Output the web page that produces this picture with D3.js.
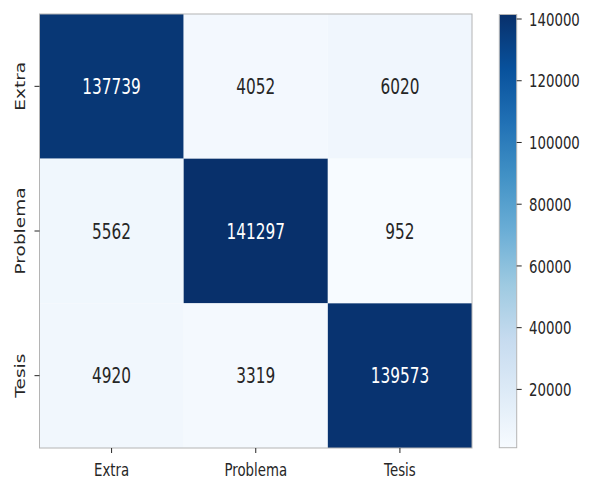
<!DOCTYPE html>
<html>
<head>
<meta charset="utf-8">
<script src="https://cdn.jsdelivr.net/npm/d3@7"></script>
<style>
  html, body { margin: 0; padding: 0; background: #ffffff; }
  svg { display: block; }
  text { font-family: "DejaVu Sans", sans-serif; }
</style>
</head>
<body>
<svg id="chart" width="592" height="481"></svg>
<script>
// Confusion matrix: rows = true class, columns = predicted class
const classes = ["Extra", "Problema", "Tesis"];
const rowExtra    = [137739, 4052, 6020];
const rowProblema = [5562, 141297, 952];
const rowTesis    = [4920, 3319, 139573];
const matrix = [rowExtra, rowProblema, rowTesis];
const colorbarTicks = [20000, 40000, 60000, 80000, 100000, 120000, 140000];

// Blues colour map (linear segments between the ColorBrewer anchors)
const bluesAnchors = ["#f7fbff", "#deebf7", "#c6dbef", "#9ecae1", "#6baed6",
                      "#4292c6", "#2171b5", "#08519c", "#08306b"];

const allValues = matrix.flat();
const vmin = d3.min(allValues), vmax = d3.max(allValues);

const blues = d3.scaleLinear()
  .domain(bluesAnchors.map((_, i) => i / (bluesAnchors.length - 1)))
  .range(bluesAnchors)
  .interpolate(d3.interpolateRgb);
const norm = d3.scaleLinear().domain([vmin, vmax]).range([0, 1]).clamp(true);
const color = v => blues(norm(v));

const SX = 0.72;          // horizontal squeeze applied to all labels
const tickFont = 18.5;
const annotFont = 21.3;
const ink = "#262626";

const svg = d3.select("#chart");

// Heatmap area
const hmLeft = 39.5, hmRight = 472, hmTop = 14, hmBottom = 448;
const x = d3.scaleBand().domain(classes).range([hmLeft, hmRight]);
const y = d3.scaleBand().domain(classes).range([hmTop, hmBottom]);

const cells = [];
matrix.forEach((row, i) => row.forEach((v, j) => cells.push({ r: classes[i], c: classes[j], v })));

const g = svg.append("g");
g.selectAll("rect.cell")
  .data(cells)
  .join("rect")
  .attr("class", "cell")
  .attr("x", d => x(d.c))
  .attr("y", d => y(d.r))
  .attr("width", x.bandwidth())
  .attr("height", y.bandwidth())
  .attr("fill", d => color(d.v));

// Luminance decides annotation colour
function luminance(c) {
  const rgb = d3.rgb(c);
  const lin = u => { u /= 255; return u <= 0.03928 ? u / 12.92 : Math.pow((u + 0.055) / 1.055, 2.4); };
  return 0.2126 * lin(rgb.r) + 0.7152 * lin(rgb.g) + 0.0722 * lin(rgb.b);
}

g.selectAll("text.annot")
  .data(cells)
  .join("text")
  .attr("class", "annot")
  .attr("transform", d => `translate(${x(d.c) + x.bandwidth() / 2},${y(d.r) + y.bandwidth() / 2}) scale(${SX},1)`)
  .attr("text-anchor", "middle")
  .attr("dy", "0.36em")
  .attr("font-size", annotFont)
  .attr("fill", d => luminance(color(d.v)) > 0.408 ? ink : "#ffffff")
  .text(d => d.v);

// Frame around the heatmap
svg.append("rect")
  .attr("x", hmLeft).attr("y", hmTop)
  .attr("width", hmRight - hmLeft).attr("height", hmBottom - hmTop)
  .attr("fill", "none").attr("stroke", "#b4b4b4").attr("stroke-width", 1);

// Bottom axis
const xAxis = svg.append("g")
  .attr("transform", `translate(0,${hmBottom})`)
  .call(d3.axisBottom(x).tickSize(5).tickSizeOuter(0));
xAxis.select(".domain").remove();
xAxis.selectAll(".tick line").attr("stroke", ink).attr("stroke-width", 1);
xAxis.selectAll(".tick text")
  .attr("y", 0).attr("dy", 0)
  .attr("transform", `translate(0,28) scale(${SX},1)`)
  .attr("font-size", tickFont)
  .attr("fill", ink)
  .attr("font-family", "DejaVu Sans, sans-serif");

// Left axis with rotated labels
const yAxis = svg.append("g")
  .attr("transform", `translate(${hmLeft},0)`)
  .call(d3.axisLeft(y).tickSize(5).tickSizeOuter(0));
yAxis.select(".domain").remove();
yAxis.selectAll(".tick line").attr("stroke", ink).attr("stroke-width", 1);
yAxis.selectAll(".tick text")
  .attr("x", 0).attr("dy", 0)
  .attr("text-anchor", "middle")
  .attr("transform", `translate(-14.5,0) scale(${SX},1) rotate(-90)`)
  .attr("font-size", tickFont)
  .attr("fill", ink)
  .attr("font-family", "DejaVu Sans, sans-serif");

// Colour bar
const cbLeft = 499.3, cbRight = 516.7, cbTop = 14.5, cbBottom = 447.7;
const cbScale = d3.scaleLinear().domain([vmin, vmax]).range([cbBottom, cbTop]);

const grad = svg.append("defs").append("linearGradient")
  .attr("id", "bluesGrad")
  .attr("x1", 0).attr("y1", 1).attr("x2", 0).attr("y2", 0);
grad.selectAll("stop")
  .data(bluesAnchors)
  .join("stop")
  .attr("offset", (_, i) => i / (bluesAnchors.length - 1))
  .attr("stop-color", d => d);

svg.append("rect")
  .attr("x", cbLeft).attr("y", cbTop)
  .attr("width", cbRight - cbLeft).attr("height", cbBottom - cbTop)
  .attr("fill", "url(#bluesGrad)")
  .attr("stroke", "#b4b4b4").attr("stroke-width", 1);

const cbAxis = svg.append("g")
  .attr("transform", `translate(${cbRight},0)`)
  .call(d3.axisRight(cbScale).tickValues(colorbarTicks).tickSize(5).tickFormat(d3.format("d")));
cbAxis.select(".domain").remove();
cbAxis.selectAll(".tick line").attr("stroke", ink).attr("stroke-width", 1);
cbAxis.selectAll(".tick text")
  .attr("x", 0).attr("dy", "0.36em")
  .attr("text-anchor", "start")
  .attr("transform", `translate(12.3,0) scale(${SX},1)`)
  .attr("font-size", tickFont)
  .attr("fill", ink)
  .attr("font-family", "DejaVu Sans, sans-serif");
</script>
</body>
</html>
